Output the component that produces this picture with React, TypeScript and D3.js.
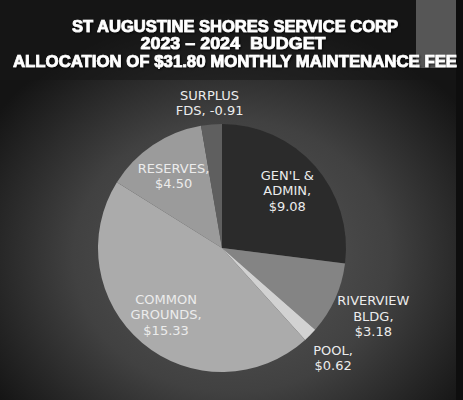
import React from 'react';
import * as d3 from 'd3';

// data
const titleLines = [
  'ST AUGUSTINE SHORES SERVICE CORP',
  '2023 \u2013 2024  BUDGET',
  'ALLOCATION OF $31.80 MONTHLY MAINTENANCE FEE',
];
const categories = ["GEN'L & ADMIN", 'RIVERVIEW BLDG', 'POOL', 'COMMON GROUNDS', 'RESERVES', 'SURPLUS FDS'];
const nameLines = [["GEN'L &", 'ADMIN,'], ['RIVERVIEW', 'BLDG,'], ['POOL,'], ['COMMON', 'GROUNDS,'], ['RESERVES,'], ['SURPLUS', 'FDS,']];
const values = [9.08, 3.18, 0.62, 15.33, 4.5, -0.91];
const shades = ['#2b2b2b', '#848484', '#d2d2d2', '#ababab', '#9b9b9b', '#5f5f5f'];

const width = 463;
const height = 400;
const cx = 222;
const cy = 248;
const radius = 124;
const lineH = 15.5;

// labels of small slices sit outside the pie
const outsideRadius: Record<string, number> = {
  'RIVERVIEW BLDG': 166,
  POOL: 156,
  'SURPLUS FDS': 146,
};

const fmt = (v: number) => (v < 0 ? v.toFixed(2) : `$${v.toFixed(2)}`);

const App = () => {
  const rows = categories.map((c, i) => {
    const names = nameLines[i];
    // a negative amount stays on the name's last line
    const lines = values[i] < 0
      ? [...names.slice(0, -1), `${names[names.length - 1]} ${fmt(values[i])}`]
      : [...names, fmt(values[i])];
    return { name: c, value: values[i], lines };
  });

  const total = d3.sum(values, (v) => Math.abs(v));
  const pieGen = d3.pie<any>().sort(null).value((d) => Math.abs(d.value));
  const arcs = pieGen(rows);
  const sliceArc = d3.arc<any>().innerRadius(0).outerRadius(radius);

  const labelPos = (a: any) => {
    const share = Math.abs(a.data.value) / total;
    const r = share >= 0.1 ? 87 : outsideRadius[a.data.name] ?? radius * 1.25;
    return d3.arc<any>().innerRadius(r).outerRadius(r).centroid(a);
  };

  return (
    <svg width={width} height={height} style={{ position: 'absolute', left: 0, top: 0 }}>
      <defs>
        <radialGradient id="bg" cx="0.5" cy="0.64" r="0.62">
          <stop offset="0" stopColor="#595959" />
          <stop offset="0.55" stopColor="#414141" />
          <stop offset="1" stopColor="#141414" />
        </radialGradient>
        <filter id="shadow" x="-5%" y="-20%" width="110%" height="140%">
          <feDropShadow dx="1" dy="1" stdDeviation="0.8" floodColor="#000" floodOpacity="0.8" />
        </filter>
      </defs>
      <rect width={width} height={height} fill="url(#bg)" />
      <rect x={0} y={0} width={width} height={80} fill="#161616" opacity={0.55} />
      <rect x={416} y={0} width={40} height={68} fill="#565656" />
      <rect x={456} y={0} width={7} height={height} fill="#0e0e0e" />

      <g fontFamily="'Liberation Sans', Arial, sans-serif" fontWeight="bold" fontSize={16.5} fill="#ffffff" stroke="#ffffff" strokeWidth={0.7} textAnchor="middle" filter="url(#shadow)">
        <text x={235} y={32} textLength={326} lengthAdjust="spacingAndGlyphs">{titleLines[0]}</text>
        <text x={233} y={49} textLength={185} lengthAdjust="spacingAndGlyphs" style={{ whiteSpace: 'pre' }}>{titleLines[1]}</text>
        <text x={235} y={67} textLength={444} lengthAdjust="spacingAndGlyphs">{titleLines[2]}</text>
      </g>

      <g transform={`translate(${cx},${cy})`}>
        {arcs.map((a, i) => (
          <path key={a.data.name} d={sliceArc(a) || ''} fill={shades[i]} />
        ))}
        {arcs.map((a) => {
          const [x, y] = labelPos(a);
          const n = a.data.lines.length;
          return (
            <text key={a.data.name} x={x} y={y} textAnchor="middle" fontFamily="'DejaVu Sans', sans-serif" fontSize={13} fill="#ececec">
              {a.data.lines.map((l: string, j: number) => (
                <tspan key={j} x={x} y={y + (j - (n - 1) / 2) * lineH + 4.8}>{l}</tspan>
              ))}
            </text>
          );
        })}
      </g>
    </svg>
  );
};

export default App;
